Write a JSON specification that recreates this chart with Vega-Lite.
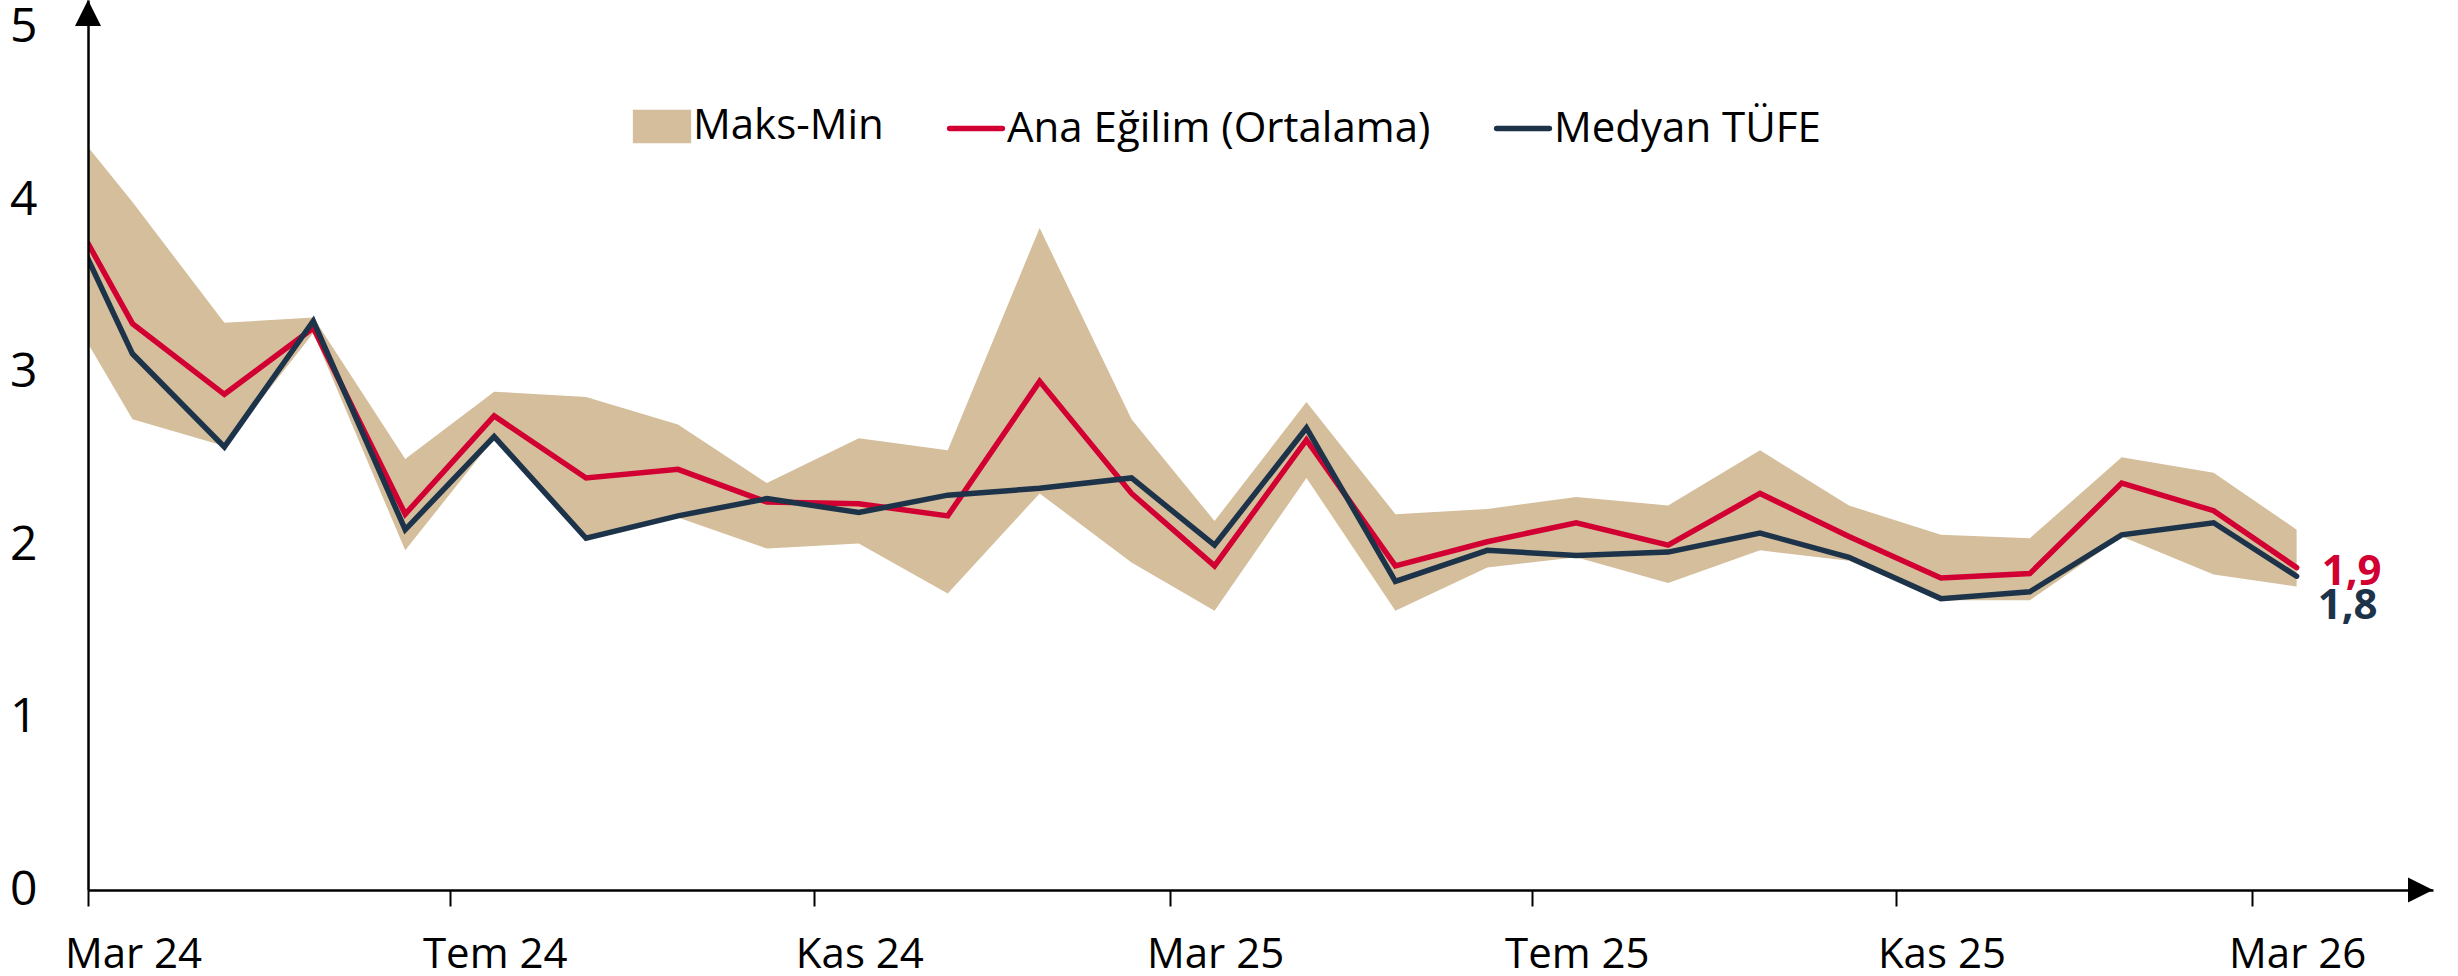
{
  "$schema": "https://vega.github.io/schema/vega-lite/v6.json",
  "width": 2345,
  "height": 890,
  "autosize": {"type": "none"},
  "padding": {"left": 88, "top": 0, "right": 25, "bottom": 86},
  "background": "white",
  "config": {
    "view": {"stroke": null},
    "font": "Open Sans",
    "locale": {
      "number": {"decimal": ",", "thousands": ".", "grouping": [3], "currency": ["₺", ""]},
      "time": {
        "dateTime": "%e %B %Y %A %X", "date": "%d.%m.%Y", "time": "%H:%M:%S", "periods": ["ÖÖ", "ÖS"],
        "days": ["Pazar", "Pazartesi", "Salı", "Çarşamba", "Perşembe", "Cuma", "Cumartesi"],
        "shortDays": ["Paz", "Pzt", "Sal", "Çar", "Per", "Cum", "Cmt"],
        "months": ["Ocak", "Şubat", "Mart", "Nisan", "Mayıs", "Haziran", "Temmuz", "Ağustos", "Eylül", "Ekim", "Kasım", "Aralık"],
        "shortMonths": ["Oca", "Şub", "Mar", "Nis", "May", "Haz", "Tem", "Ağu", "Eyl", "Eki", "Kas", "Ara"]
      }
    }
  },
  "data": {
    "values": [
      {"ay": "2024-02-15", "maks": 4.63, "min": 3.61, "ortalama": 4.215, "medyan": 4.21},
      {"ay": "2024-03-16", "maks": 3.99, "min": 2.73, "ortalama": 3.285, "medyan": 3.11},
      {"ay": "2024-04-16", "maks": 3.29, "min": 2.575, "ortalama": 2.875, "medyan": 2.57},
      {"ay": "2024-05-16", "maks": 3.32, "min": 3.23, "ortalama": 3.26, "medyan": 3.30},
      {"ay": "2024-06-16", "maks": 2.50, "min": 1.97, "ortalama": 2.18, "medyan": 2.09},
      {"ay": "2024-07-16", "maks": 2.89, "min": 2.62, "ortalama": 2.75, "medyan": 2.63},
      {"ay": "2024-08-16", "maks": 2.86, "min": 2.03, "ortalama": 2.39, "medyan": 2.04},
      {"ay": "2024-09-16", "maks": 2.70, "min": 2.16, "ortalama": 2.44, "medyan": 2.17},
      {"ay": "2024-10-16", "maks": 2.36, "min": 1.98, "ortalama": 2.25, "medyan": 2.27},
      {"ay": "2024-11-16", "maks": 2.62, "min": 2.01, "ortalama": 2.24, "medyan": 2.19},
      {"ay": "2024-12-16", "maks": 2.55, "min": 1.72, "ortalama": 2.17, "medyan": 2.29},
      {"ay": "2025-01-16", "maks": 3.84, "min": 2.30, "ortalama": 2.95, "medyan": 2.33},
      {"ay": "2025-02-16", "maks": 2.73, "min": 1.90, "ortalama": 2.30, "medyan": 2.39},
      {"ay": "2025-03-16", "maks": 2.14, "min": 1.62, "ortalama": 1.88, "medyan": 2.00},
      {"ay": "2025-04-16", "maks": 2.83, "min": 2.39, "ortalama": 2.61, "medyan": 2.68},
      {"ay": "2025-05-16", "maks": 2.18, "min": 1.62, "ortalama": 1.88, "medyan": 1.79},
      {"ay": "2025-06-16", "maks": 2.21, "min": 1.87, "ortalama": 2.02, "medyan": 1.97},
      {"ay": "2025-07-16", "maks": 2.28, "min": 1.93, "ortalama": 2.13, "medyan": 1.94},
      {"ay": "2025-08-16", "maks": 2.23, "min": 1.78, "ortalama": 2.00, "medyan": 1.96},
      {"ay": "2025-09-16", "maks": 2.55, "min": 1.97, "ortalama": 2.30, "medyan": 2.07},
      {"ay": "2025-10-16", "maks": 2.23, "min": 1.91, "ortalama": 2.05, "medyan": 1.93},
      {"ay": "2025-11-16", "maks": 2.06, "min": 1.68, "ortalama": 1.81, "medyan": 1.69},
      {"ay": "2025-12-16", "maks": 2.04, "min": 1.68, "ortalama": 1.835, "medyan": 1.73},
      {"ay": "2026-01-16", "maks": 2.51, "min": 2.05, "ortalama": 2.36, "medyan": 2.06},
      {"ay": "2026-02-16", "maks": 2.42, "min": 1.83, "ortalama": 2.20, "medyan": 2.13},
      {"ay": "2026-03-16", "maks": 2.09, "min": 1.76, "ortalama": 1.87, "medyan": 1.82}
    ]
  },
  "encoding": {
    "x": {
      "field": "ay",
      "type": "temporal",
      "scale": {
        "type": "utc",
        "nice": false,
        "domain": [
          {"year": 2024, "month": 3, "date": 1, "utc": true},
          {"year": 2026, "month": 5, "date": 1, "utc": true}
        ]
      },
      "axis": {
        "title": null,
        "grid": false,
        "zindex": 1,
        "values": [
          {"year": 2024, "month": 3, "date": 1, "utc": true},
          {"year": 2024, "month": 7, "date": 1, "utc": true},
          {"year": 2024, "month": 11, "date": 1, "utc": true},
          {"year": 2025, "month": 3, "date": 1, "utc": true},
          {"year": 2025, "month": 7, "date": 1, "utc": true},
          {"year": 2025, "month": 11, "date": 1, "utc": true},
          {"year": 2026, "month": 3, "date": 1, "utc": true}
        ],
        "format": "%b %y",
        "domainColor": "black",
        "domainWidth": 2.5,
        "tickColor": "black",
        "tickWidth": 2,
        "tickSize": 16,
        "labelPadding": 28,
        "labelOffset": 45,
        "labelFont": "Open Sans",
        "labelFontSize": 42,
        "labelColor": "black",
        "labelFlush": false,
        "labelOverlap": false,
        "labelBound": false
      }
    }
  },
  "layer": [
    {
      "mark": {"type": "area", "clip": true, "opacity": 1},
      "encoding": {
        "y": {
          "field": "maks",
          "type": "quantitative",
          "scale": {"domain": [0, 5.162], "nice": false, "zero": true},
          "axis": {
            "title": null,
            "grid": false,
            "zindex": 1,
            "values": [0, 1, 2, 3, 4, 5],
            "format": "d",
            "ticks": false,
            "tickSize": 0,
            "domainColor": "black",
            "domainWidth": 2.5,
            "labelPadding": 51,
            "labelFont": "Open Sans",
            "labelFontSize": 48,
            "labelColor": "black",
            "labelFlush": false,
            "labelOverlap": false,
            "labelBound": false
          }
        },
        "y2": {"field": "min"},
        "color": {
          "datum": "Maks-Min",
          "type": "nominal",
          "scale": {
            "domain": ["Maks-Min", "Ana Eğilim (Ortalama)", "Medyan TÜFE"],
            "range": ["#D4BE9C", "#D20032", "#1D3349"]
          },
          "legend": {
            "title": null,
            "orient": "none",
            "direction": "horizontal",
            "legendX": 544,
            "legendY": 96,
            "labelFont": "Open Sans",
            "labelFontSize": 42,
            "labelColor": "black",
            "labelLimit": 0,
            "labelOffset": 1,
            "columnPadding": 54,
            "symbolSize": 2900,
            "symbolStrokeWidth": 5,
            "symbolOpacity": 1,
            "encode": {
              "symbols": {
                "update": {
                  "shape": {"signal": "datum.value === 'Maks-Min' ? 'M-0.98,-0.52H0.98V0.52H-0.98Z' : 'M-0.98,0H0.98'"},
                  "fill": {"signal": "datum.value === 'Maks-Min' ? '#D4BE9C' : 'transparent'"},
                  "stroke": {"signal": "datum.value === 'Maks-Min' ? 'transparent' : (datum.value === 'Medyan TÜFE' ? '#1D3349' : '#D20032')"},
                  "strokeWidth": {"value": 5.5},
                  "strokeCap": {"value": "round"},
                  "opacity": {"value": 1}
                }
              }
            }
          }
        }
      }
    },
    {
      "mark": {"type": "line", "clip": true, "strokeWidth": 5.5, "strokeCap": "round"},
      "encoding": {
        "y": {"field": "ortalama", "type": "quantitative"},
        "color": {"datum": "Ana Eğilim (Ortalama)", "type": "nominal"}
      }
    },
    {
      "mark": {"type": "line", "clip": true, "strokeWidth": 5.5, "strokeCap": "round"},
      "encoding": {
        "y": {"field": "medyan", "type": "quantitative"},
        "color": {"datum": "Medyan TÜFE", "type": "nominal"}
      }
    },
    {
      "transform": [{"filter": "utcyear(datum.ay) == 2026 && utcmonth(datum.ay) == 2"}],
      "mark": {"type": "text", "align": "left", "baseline": "middle", "dx": 25, "dy": 4, "fontSize": 42, "fontWeight": "bold", "font": "Open Sans", "color": "#D20032"},
      "encoding": {
        "y": {"field": "ortalama", "type": "quantitative"},
        "text": {"field": "ortalama", "type": "quantitative", "format": ".1f"}
      }
    },
    {
      "transform": [{"filter": "utcyear(datum.ay) == 2026 && utcmonth(datum.ay) == 2"}],
      "mark": {"type": "text", "align": "left", "baseline": "middle", "dx": 21, "dy": 30, "fontSize": 42, "fontWeight": "bold", "font": "Open Sans", "color": "#1D3349"},
      "encoding": {
        "y": {"field": "medyan", "type": "quantitative"},
        "text": {"field": "medyan", "type": "quantitative", "format": ".1f"}
      }
    },
    {
      "data": {"values": [{"ay": "2024-03-01", "eksen": 5.162}]},
      "mark": {"type": "point", "shape": "M-1,2L0,0L1,2Z", "size": 676, "filled": true, "fill": "black", "stroke": null, "opacity": 1},
      "encoding": {
        "y": {"field": "eksen", "type": "quantitative"}
      }
    },
    {
      "data": {"values": [{"ay": "2026-05-01", "eksen": 0}]},
      "mark": {"type": "point", "shape": "M-2,-1L0,0L-2,1Z", "size": 625, "filled": true, "fill": "black", "stroke": null, "opacity": 1},
      "encoding": {
        "y": {"field": "eksen", "type": "quantitative"}
      }
    }
  ]
}
